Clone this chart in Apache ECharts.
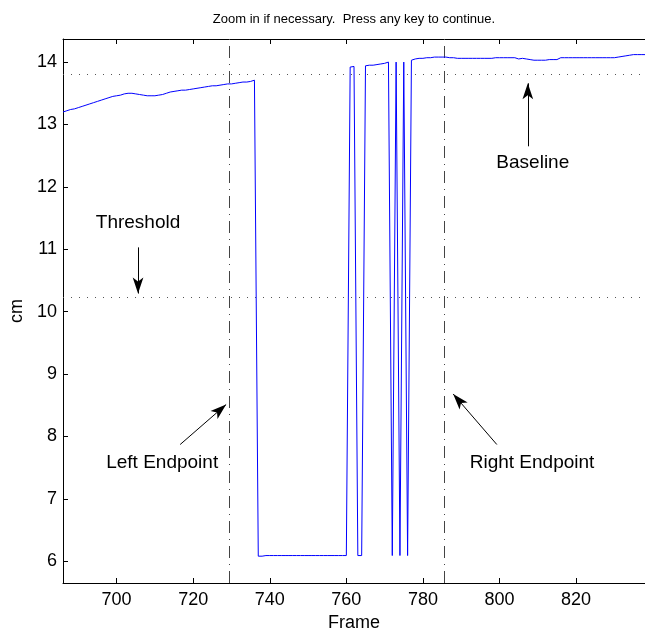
<!DOCTYPE html>
<html>
<head>
<meta charset="utf-8">
<script src="https://cdn.jsdelivr.net/npm/echarts@6/dist/echarts.min.js"></script>
<style>
html,body{margin:0;padding:0;background:#fff;}
#chart{width:645px;height:637px;}
</style>
</head>
<body>
<div id="chart"></div>
<script>
// ---- data ----
const titleText = 'Zoom in if necessary.  Press any key to continue.';
const xLabel = 'Frame';
const yLabel = 'cm';
const startFrame = 686;
const cmValues = [
  13.20,13.22,13.24,13.25,13.27,13.29,13.31,13.33,13.35,13.37,
  13.39,13.41,13.43,13.45,13.46,13.47,13.49,13.50,13.50,13.49,
  13.48,13.47,13.46,13.46,13.46,13.47,13.48,13.50,13.52,13.53,
  13.54,13.55,13.55,13.56,13.57,13.58,13.59,13.60,13.61,13.62,
  13.62,13.63,13.64,13.65,13.65,13.66,13.67,13.68,13.68,13.69,
  13.71,6.08,6.08,6.09,6.09,6.09,6.09,6.09,6.09,6.09,
  6.09,6.09,6.09,6.09,6.09,6.09,6.09,6.09,6.09,6.09,
  6.09,6.09,6.09,6.09,6.09,13.92,13.93,6.09,6.09,13.94,
  13.95,13.95,13.96,13.97,13.98,14.00,6.09,14.00,6.09,14.00,
  6.09,14.03,14.05,14.06,14.06,14.07,14.07,14.08,14.08,14.08,
  14.08,14.07,14.07,14.06,14.06,14.06,14.06,14.06,14.06,14.06,
  14.06,14.06,14.06,14.07,14.07,14.07,14.07,14.07,14.07,14.05,
  14.06,14.05,14.04,14.03,14.03,14.03,14.03,14.04,14.04,14.04,
  14.07,14.07,14.07,14.07,14.07,14.07,14.07,14.07,14.07,14.07,
  14.07,14.07,14.07,14.07,14.07,14.08,14.09,14.10,14.11,14.12,
  14.12,14.12,14.12
];
const xTicks = [700, 720, 740, 760, 780, 800, 820];
const yTicks = [6, 7, 8, 9, 10, 11, 12, 13, 14];
const xRange = [686, 838];
const yRange = [5.65, 14.37];
const baselineValue = 13.81;
const thresholdValue = 10.23;
const leftEndpoint = 729.3;
const rightEndpoint = 785.7;
// annotations: [text, textFrame, textValue, arrowTail, arrowTip]
const annotations = [
  ['Baseline',       808.7, 12.38, [807.4, 12.65], [807.4, 13.66]],
  ['Threshold',      705.6, 11.42, [705.6, 11.03], [705.6, 10.29]],
  ['Left Endpoint',  711.9, 7.57,  [716.6, 7.87],  [728.6, 8.51]],
  ['Right Endpoint', 808.5, 7.57,  [799.3, 7.87],  [787.9, 8.68]]
];

const seriesData = cmValues.map((v, i) => [startFrame + i, v]);
const FONT = '"Liberation Sans", Arial, Helvetica, sans-serif';

const chart = echarts.init(document.getElementById('chart'), null, {renderer: 'canvas'});
const tickStyle = {show: true, inside: true, length: 5, lineStyle: {color: '#000', width: 1}};
chart.setOption({
  animation: false,
  backgroundColor: '#fff',
  textStyle: {fontFamily: FONT},
  graphic: [{
    type: 'text', x: 354, y: 19,
    style: {text: titleText, fontFamily: FONT, fontSize: 13, fill: '#000', textAlign: 'center', textVerticalAlign: 'middle'}
  }],
  grid: {left: 63, right: 0, top: 39, bottom: 51},
  xAxis: [{
    type: 'value', min: xRange[0], max: xRange[1], position: 'bottom',
    name: xLabel, nameLocation: 'middle', nameGap: 31,
    nameTextStyle: {fontFamily: FONT, fontSize: 18, color: '#000'},
    axisLine: {show: true, onZero: false, lineStyle: {color: '#000', width: 1}},
    axisTick: Object.assign({customValues: xTicks}, tickStyle),
    axisLabel: {customValues: xTicks, fontFamily: FONT, fontSize: 18, color: '#000', margin: 8},
    splitLine: {show: false}
  }, {
    type: 'value', min: xRange[0], max: xRange[1], position: 'top',
    axisLine: {show: true, onZero: false, lineStyle: {color: '#000', width: 1}},
    axisTick: Object.assign({customValues: xTicks}, tickStyle),
    axisLabel: {show: false},
    splitLine: {show: false}
  }],
  yAxis: [{
    type: 'value', min: yRange[0], max: yRange[1],
    name: yLabel, nameLocation: 'middle', nameGap: 37, nameRotate: 90,
    nameTextStyle: {fontFamily: FONT, fontSize: 18, color: '#000'},
    axisLine: {show: true, onZero: false, lineStyle: {color: '#000', width: 1}},
    axisTick: Object.assign({customValues: yTicks}, tickStyle),
    axisLabel: {customValues: yTicks, fontFamily: FONT, fontSize: 18, color: '#000', margin: 6},
    splitLine: {show: false}
  }],
  series: [{
    type: 'line',
    data: seriesData,
    showSymbol: false,
    symbol: 'none',
    lineStyle: {color: '#0000ff', width: 1},
    z: 5,
    markLine: {
      silent: true,
      symbol: ['none', 'none'],
      label: {show: false},
      data: [
        {yAxis: baselineValue, lineStyle: {color: '#555', width: 1, type: [1, 7]}},
        {yAxis: thresholdValue, lineStyle: {color: '#555', width: 1, type: [1, 7]}},
        {xAxis: leftEndpoint, lineStyle: {color: '#444', width: 1, type: [12, 6, 1, 6]}},
        {xAxis: rightEndpoint, lineStyle: {color: '#444', width: 1, type: [12, 6, 1, 6]}}
      ]
    }
  }, {
    type: 'line',
    data: [],
    markLine: {
      silent: true,
      symbol: ['none', 'arrow'],
      symbolSize: [8, 16],
      label: {show: false},
      lineStyle: {color: '#000', width: 1, type: 'solid'},
      data: annotations.map(a => [{coord: a[3]}, {coord: a[4]}])
    },
    markPoint: {
      silent: true,
      symbol: 'circle',
      symbolSize: 0,
      label: {show: true, position: 'inside', color: '#000', fontFamily: FONT, fontSize: 19,
              formatter: p => p.name},
      data: annotations.map(a => ({name: a[0], coord: [a[1], a[2]]}))
    }
  }]
});
</script>
</body>
</html>
